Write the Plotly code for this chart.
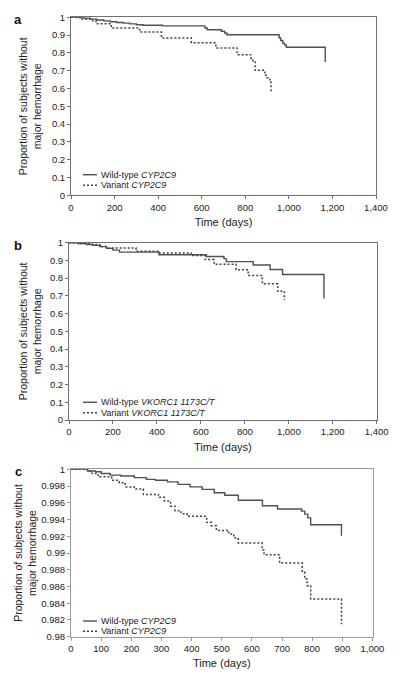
import plotly.graph_objects as go

# ---------------- data ----------------
# Panel a: CYP2C9
WT_A_T = [0, 30, 60, 90, 120, 150, 180, 210, 240, 270, 300, 330, 420, 615, 625, 690, 705, 715, 955, 962, 972, 980, 988, 1167]
WT_A_S = [1, 0.998, 0.995, 0.99, 0.985, 0.98, 0.975, 0.971, 0.967, 0.963, 0.958, 0.955, 0.952, 0.94, 0.93, 0.922, 0.912, 0.902, 0.885, 0.87, 0.855, 0.845, 0.832, 0.749]
VAR_A_T = [0, 50, 100, 115, 185, 315, 415, 552, 665, 762, 825, 835, 845, 890, 900, 913, 918]
VAR_A_S = [1, 0.99, 0.98, 0.964, 0.94, 0.918, 0.884, 0.857, 0.828, 0.79, 0.77, 0.749, 0.702, 0.674, 0.66, 0.642, 0.58]

# Panel b: VKORC1 1173C/T
WT_B_T = [0, 40, 80, 110, 140, 170, 200, 230, 410, 625, 705, 715, 838, 915, 972, 1160]
WT_B_S = [1, 0.995, 0.99, 0.985, 0.978, 0.968, 0.958, 0.947, 0.932, 0.922, 0.91, 0.893, 0.874, 0.849, 0.821, 0.685]
VAR_B_T = [0, 50, 100, 140, 170, 305, 410, 555, 620, 660, 760, 815, 880, 950, 980]
VAR_B_S = [1, 0.995, 0.99, 0.978, 0.97, 0.952, 0.942, 0.928, 0.905, 0.879, 0.848, 0.815, 0.768, 0.726, 0.677]

# Panel c: CYP2C9 (zoomed)
WT_C_T = [0, 55, 80, 100, 130, 165, 210, 250, 280, 320, 355, 395, 435, 475, 510, 555, 635, 685, 765, 775, 785, 795, 897]
WT_C_S = [1, 0.9998, 0.9997, 0.9995, 0.9993, 0.9992, 0.9990, 0.9988, 0.9987, 0.9985, 0.9982, 0.9979, 0.9976, 0.9972, 0.9969, 0.9963, 0.99565, 0.99526, 0.9950, 0.99465, 0.9942, 0.99338, 0.99207]
VAR_C_T = [0, 55, 70, 90, 135, 160, 180, 210, 240, 290, 310, 330, 345, 365, 385, 450, 465, 482, 523, 540, 555, 634, 640, 692, 767, 775, 783, 795, 897]
VAR_C_S = [1, 0.9998, 0.9995, 0.9991, 0.9987, 0.9984, 0.9979, 0.99765, 0.9970, 0.99665, 0.9962, 0.9956, 0.99505, 0.9947, 0.99438, 0.99367, 0.99326, 0.9927, 0.99227, 0.9918, 0.9912, 0.99036, 0.9898, 0.9888, 0.98769, 0.9869, 0.9861, 0.9845, 0.9815]

PANEL_LETTERS = ["a", "b", "c"]
LEGEND_TEXT = [
    ["Wild-type <i>CYP2C9</i>", "Variant <i>CYP2C9</i>"],
    ["Wild-type <i>VKORC1 1173C/T</i>", "Variant <i>VKORC1 1173C/T</i>"],
    ["Wild-type <i>CYP2C9</i>", "Variant <i>CYP2C9</i>"],
]
X_TITLE = "Time (days)"
Y_TITLE = "Proportion of subjects without<br>major hemorrhage"

# ---------------- layout helpers ----------------
OFF = 8                      # page body margin in the browser
W, H = 400 - OFF, 676 - OFF  # figure size that fits inside the window
FONT = "Liberation Sans, Arial, Helvetica, sans-serif"
WT_COLOR = "#505050"
VAR_COLOR = "#404040"


def px_x(p):
    return (p - OFF) / W


def px_y(p):
    return 1 - (p - OFF) / H


panels = [
    dict(x=(71, 376), y=(17.3, 195.3), xr=[0, 1400], xd=200, yr=[0, 1], yd=0.1,
         wt=(WT_A_T, WT_A_S), var=(VAR_A_T, VAR_A_S), box="#707070",
         leg_y=(174.7, 185.3), letter_y=19, ysoff=8),
    dict(x=(69, 376.7), y=(242.7, 420), xr=[0, 1400], xd=200, yr=[0, 1], yd=0.1,
         wt=(WT_B_T, WT_B_S), var=(VAR_B_T, VAR_B_S), box="#707070",
         leg_y=(402.3, 412.7), letter_y=245, ysoff=6),
    dict(x=(71, 372.5), y=(469.3, 636.7), xr=[0, 1000], xd=100, yr=[0.98, 1], yd=0.002,
         wt=(WT_C_T, WT_C_S), var=(VAR_C_T, VAR_C_S), box="#9a9a9a",
         leg_y=(621, 631.3), letter_y=471, ysoff=2),
]

fig = go.Figure()
layout = dict(
    width=W, height=H, margin=dict(l=0, r=0, t=0, b=0),
    paper_bgcolor="white", plot_bgcolor="white",
    font=dict(family=FONT, size=9.5, color="#222"),
    showlegend=False,
)
annotations = []
shapes = []

for i, p in enumerate(panels):
    n = "" if i == 0 else str(i + 1)
    xa, ya = "x" + n, "y" + n
    fig.add_trace(go.Scatter(x=p["wt"][0], y=p["wt"][1], mode="lines", line_shape="hv",
                             line=dict(color=WT_COLOR, width=1.4), xaxis=xa, yaxis=ya,
                             name=LEGEND_TEXT[i][0]))
    fig.add_trace(go.Scatter(x=p["var"][0], y=p["var"][1], mode="lines", line_shape="hv",
                             line=dict(color=VAR_COLOR, width=1.5, dash="2px,2px"),
                             xaxis=xa, yaxis=ya, name=LEGEND_TEXT[i][1]))
    common = dict(showgrid=False, zeroline=False, showline=True, mirror=True,
                  linecolor=p["box"], linewidth=1, ticks="outside", ticklen=3,
                  tickcolor=p["box"], automargin=False,
                  tickfont=dict(family=FONT, size=9.5, color="#222"))
    layout["xaxis" + n] = dict(
        common, domain=[px_x(p["x"][0]), px_x(p["x"][1])], range=p["xr"],
        dtick=p["xd"], tick0=0, tickformat=",d", anchor=ya,
        title=dict(text=X_TITLE, font=dict(family=FONT, size=11, color="#222"), standoff=6),
    )
    layout["yaxis" + n] = dict(
        common, domain=[px_y(p["y"][1]), px_y(p["y"][0])], range=p["yr"],
        dtick=p["yd"], tick0=p["yr"][0], anchor=xa,
        title=dict(text=Y_TITLE, font=dict(family=FONT, size=10.5, color="#222"),
                   standoff=p["ysoff"]),
    )
    # panel letter
    annotations.append(dict(text="<b>%s</b>" % PANEL_LETTERS[i], x=px_x(18), y=px_y(p["letter_y"]),
                            xref="paper", yref="paper", xanchor="center", yanchor="middle",
                            showarrow=False, font=dict(family=FONT, size=13, color="#111")))
    # manual legend (compact, like the original)
    for j, (txt, dash, col) in enumerate([(LEGEND_TEXT[i][0], "solid", WT_COLOR),
                                          (LEGEND_TEXT[i][1], "2px,2px", VAR_COLOR)]):
        yy = px_y(p["leg_y"][j])
        shapes.append(dict(type="line", xref="paper", yref="paper",
                           x0=px_x(83), x1=px_x(97), y0=yy, y1=yy,
                           line=dict(color=col, width=1.4, dash=dash)))
        annotations.append(dict(text=txt, x=px_x(99), y=yy, xref="paper", yref="paper",
                                xanchor="left", yanchor="middle", showarrow=False,
                                font=dict(family=FONT, size=9, color="#222")))

layout["annotations"] = annotations
layout["shapes"] = shapes
fig.update_layout(**layout)
fig.write_html("out.html")
